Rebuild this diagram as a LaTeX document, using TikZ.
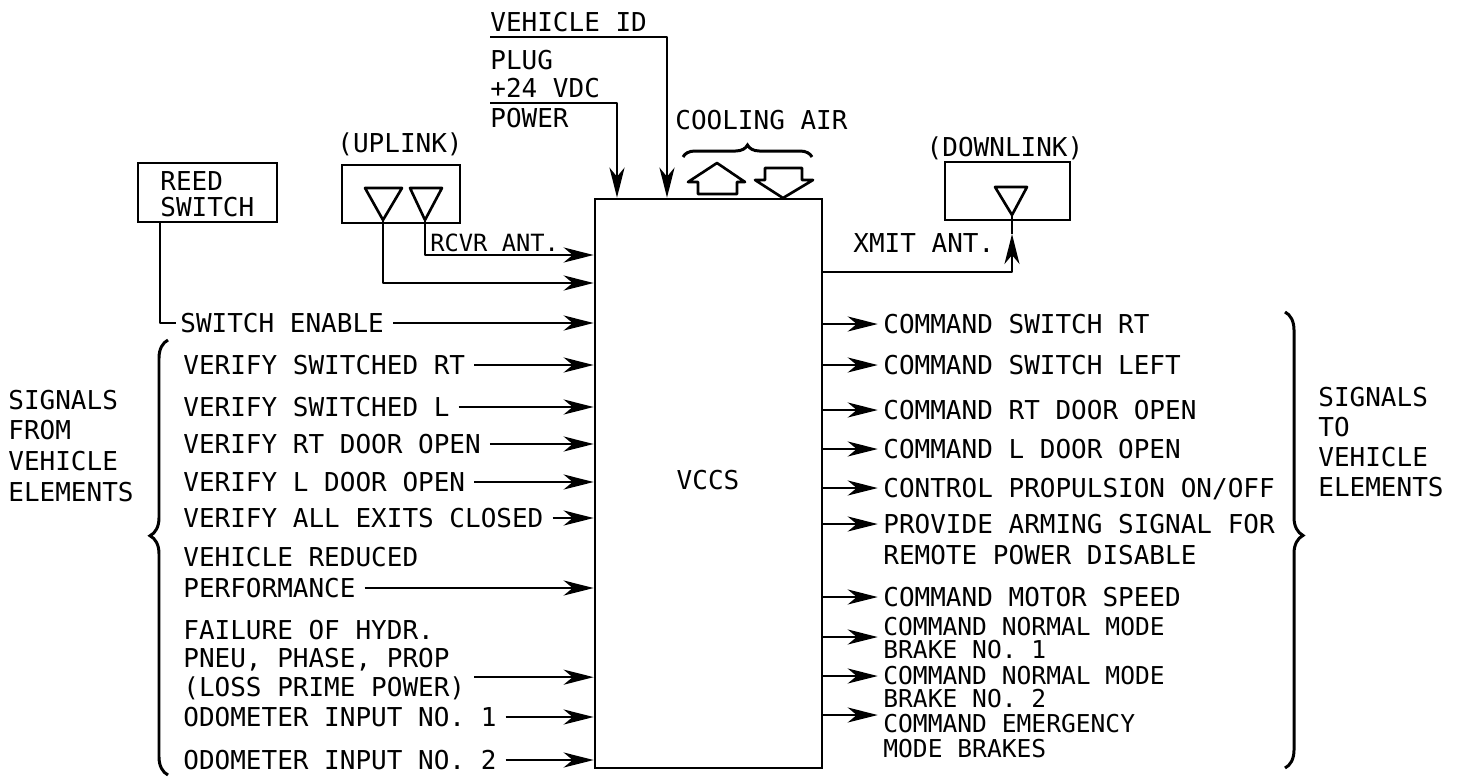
\documentclass[tikz,border=0pt]{standalone}
\usepackage{fontspec}
\setmainfont{DejaVu Sans Mono}
\usetikzlibrary{arrows.meta,decorations.pathreplacing,fit,calc}
\begin{document}
\begin{tikzpicture}[x=0.02cm,y=-0.02cm,
  txt/.style={font=\fontsize{14.8}{16}\selectfont, inner sep=0pt, text height=10.8pt, text depth=0pt, anchor=west},
  smalltxt/.style={txt, font=\fontsize{13.5}{15}\selectfont, text height=9.8pt},
  tighttxt/.style={txt, font=\fontsize{14}{15}\selectfont, text height=10.2pt},
  ln/.style={line width=1.5pt, line join=round},
  arr/.style={ln, -{Stealth[length=0.6cm,width=0.3cm,inset=0.18cm]}},
  bx/.style={draw, line width=1.5pt, inner sep=0pt},
  brc/.style={decorate, decoration={brace, amplitude=#1}, line width=1.7pt}]
\useasboundingbox (0,0) rectangle (1459,778);

% central block
\node[bx, fit={(595,199) (822,768)}] (vccs) {};
\node[txt, anchor=center] (vccslbl) at (708,480) {VCCS};

% top inputs
\node[txt] (vid) at (490,22) {VEHICLE ID};
\node[txt] (plug) at (490,60) {PLUG};
\node[txt] (vdc) at (490,88) {+24 VDC};
\node[txt] (pwr) at (490,118) {POWER};
\coordinate (vidL) at (490,37);
\coordinate (vidC) at (667,37);
\draw[arr] (vidL) -- (vidC) -- (vidC |- vccs.north);
\coordinate (vdcL) at (490,103);
\coordinate (vdcC) at (617,103);
\draw[arr] (vdcL) -- (vdcC) -- (vdcC |- vccs.north);

% cooling air
\node[txt] (cool) at (675,120) {COOLING AIR};
\draw[brc=0.24cm] (683,157) -- (812,157);
\draw[ln] (717,163) -- (745,182) -- (737,182) -- (737,194) -- (698,194) -- (698,182) -- (688,182) -- cycle;
\draw[ln] (765,168) -- (802,168) -- (802,180) -- (813,180) -- (783,198) -- (755,180) -- (765,180) -- cycle;

% reed switch
\node[bx, fit={(138,163) (277,222)}] (reed) {};
\node[txt] (reedt1) at (160,181) {REED};
\node[txt] (reedt2) at (160,207) {SWITCH};

% uplink
\node[bx, fit={(342,165) (460,223)}] (up) {};
\node[txt, anchor=center] (uplbl) at (400,143) {(UPLINK)};
\draw[ln] (365,188) -- (402,188) -- (383,220) -- cycle;
\draw[ln] (410,188) -- (442,188) -- (425,220) -- cycle;
\coordinate (ua1) at (383,220);
\coordinate (ua2) at (425,220);
\coordinate (uc1) at (383,283);
\coordinate (uc2) at (425,255);
\draw[arr] (ua2) -- (uc2) -- (uc2 -| vccs.west);
\draw[arr] (ua1) -- (uc1) -- (uc1 -| vccs.west);
\node[smalltxt] (rcvr) at (430,243) {RCVR ANT.};

% downlink
\node[bx, fit={(945,162) (1070,220)}] (down) {};
\node[txt, anchor=center] (dnlbl) at (1005,147) {(DOWNLINK)};
\draw[ln] (995,187) -- (1027,187) -- (1012,215) -- cycle;
\coordinate (da) at (1012,215);
\coordinate (dt) at (1012,234);
\coordinate (dc) at (1012,272);
\draw[arr] (dc -| vccs.east) -- (dc) -- (dt);
\draw[ln] (dt) -- (da);
\node[txt] (xmit) at (853,243) {XMIT ANT.};

% left inputs
\node[txt] (se) at (180,323) {SWITCH ENABLE};
\coordinate (rs) at (160,222);
\draw[ln] (rs) |- ([xshift=-2pt]se.west);
\draw[arr, shorten <=5pt] (se.east) -- (se.east -| vccs.west);

\node[txt] (l1) at (183,365) {VERIFY SWITCHED RT};
\node[txt] (l2) at (183,407) {VERIFY SWITCHED L};
\node[txt] (l3) at (183,444) {VERIFY RT DOOR OPEN};
\node[txt] (l4) at (183,482) {VERIFY L DOOR OPEN};
\node[txt] (l5) at (183,518) {VERIFY ALL EXITS CLOSED};
\node[txt] (l6a) at (183,557) {VEHICLE REDUCED};
\node[txt] (l6b) at (183,588) {PERFORMANCE};
\node[txt] (l7a) at (183,630) {FAILURE OF HYDR.};
\node[txt] (l7b) at (183,658) {PNEU, PHASE, PROP};
\node[txt] (l7c) at (183,687) {(LOSS PRIME POWER)};
\node[txt] (l8) at (183,717) {ODOMETER INPUT NO. 1};
\node[txt] (l9) at (183,760) {ODOMETER INPUT NO. 2};
\foreach \n in {l1,l2,l3,l4,l5,l6b,l8,l9}
  \draw[arr, shorten <=5pt] (\n.east) -- (\n.east -| vccs.west);
\draw[arr, shorten <=5pt] (l7c.north east) -- (l7c.north east -| vccs.west);

% right outputs
\node[txt] (r1) at (883,324) {COMMAND SWITCH RT};
\node[txt] (r2) at (883,365) {COMMAND SWITCH LEFT};
\node[txt] (r3) at (883,410) {COMMAND RT DOOR OPEN};
\node[txt] (r4) at (883,449) {COMMAND L DOOR OPEN};
\node[txt] (r5) at (883,488) {CONTROL PROPULSION ON/OFF};
\node[txt] (r6a) at (883,524) {PROVIDE ARMING SIGNAL FOR};
\node[txt] (r6b) at (883,555) {REMOTE POWER DISABLE};
\node[txt] (r7) at (883,597) {COMMAND MOTOR SPEED};
\node[tighttxt] (r8a) at (883,627) {COMMAND NORMAL MODE};
\node[tighttxt] (r8b) at (883,650) {BRAKE NO. 1};
\node[tighttxt] (r9a) at (883,676) {COMMAND NORMAL MODE};
\node[tighttxt] (r9b) at (883,699) {BRAKE NO. 2};
\node[tighttxt] (r10a) at (883,724) {COMMAND EMERGENCY};
\node[tighttxt] (r10b) at (883,749) {MODE BRAKES};
\foreach \n in {r1,r2,r3,r4,r5,r6a,r7,r9a}
  \draw[arr, shorten >=3pt] (\n.west -| vccs.east) -- (\n.west);
\coordinate (a8) at (883,637);
\coordinate (a10) at (883,715);
\draw[arr, shorten >=3pt] (a8 -| vccs.east) -- (a8);
\draw[arr, shorten >=3pt] (a10 -| vccs.east) -- (a10);

% braces and group labels
\draw[brc=0.36cm, decoration={aspect=0.55}] (168,775) -- (168,340);
\node[txt] (sf1) at (8,400) {SIGNALS};
\node[txt] (sf2) at (8,430) {FROM};
\node[txt] (sf3) at (8,461) {VEHICLE};
\node[txt] (sf4) at (8,492) {ELEMENTS};

\draw[brc=0.36cm, decoration={aspect=0.49}] (1285,312) -- (1285,768);
\node[txt] (st1) at (1318,397) {SIGNALS};
\node[txt] (st2) at (1318,427) {TO};
\node[txt] (st3) at (1318,457) {VEHICLE};
\node[txt] (st4) at (1318,487) {ELEMENTS};
\end{tikzpicture}
\end{document}
